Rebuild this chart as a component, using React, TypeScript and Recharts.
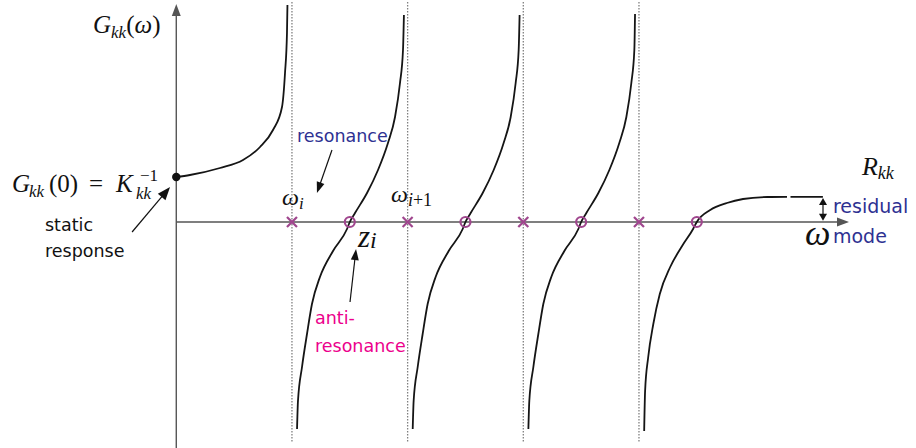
import React from 'react';
import { ComposedChart, Line, Scatter, XAxis, YAxis, ReferenceLine, ReferenceDot } from 'recharts';

// frequency axis: pole spacing = 1, receptance axis in arbitrary units
const poles = [1, 2, 3, 4];
const zeros = [1.5, 2.5, 3.5, 4.5];
const staticValue = 1.125;

const branch0 = [
  { w: 0, g: 1.125 }, { w: 0.118, g: 1.175 }, { w: 0.378, g: 1.35 }, { w: 0.577, g: 1.55 },
  { w: 0.724, g: 1.875 }, { w: 0.836, g: 2.3 }, { w: 0.914, g: 2.875 }, { w: 0.94, g: 3.725 },
  { w: 0.957, g: 4.725 }, { w: 0.961, g: 5.425 },
];
const branch1 = [
  { w: 1.044, g: -5.175 }, { w: 1.052, g: -4.475 }, { w: 1.087, g: -3.625 }, { w: 1.13, g: -2.8 },
  { w: 1.173, g: -2.05 }, { w: 1.242, g: -1.375 }, { w: 1.355, g: -0.725 }, { w: 1.476, g: -0.175 },
  { w: 1.5, g: 0 }, { w: 1.545, g: 0.225 }, { w: 1.649, g: 0.725 }, { w: 1.744, g: 1.3 },
  { w: 1.83, g: 1.975 }, { w: 1.891, g: 2.625 }, { w: 1.934, g: 3.475 }, { w: 1.96, g: 4.3 },
  { w: 1.968, g: 5.175 },
];
const branch2 = [
  { w: 2.044, g: -5.175 }, { w: 2.052, g: -4.475 }, { w: 2.087, g: -3.625 }, { w: 2.13, g: -2.8 },
  { w: 2.173, g: -2.05 }, { w: 2.242, g: -1.375 }, { w: 2.355, g: -0.725 }, { w: 2.476, g: -0.175 },
  { w: 2.5, g: 0 }, { w: 2.545, g: 0.225 }, { w: 2.649, g: 0.725 }, { w: 2.744, g: 1.3 },
  { w: 2.83, g: 1.975 }, { w: 2.891, g: 2.625 }, { w: 2.934, g: 3.475 }, { w: 2.96, g: 4.3 },
  { w: 2.968, g: 5.175 },
];
const branch3 = [
  { w: 3.044, g: -5.175 }, { w: 3.052, g: -4.475 }, { w: 3.087, g: -3.625 }, { w: 3.13, g: -2.8 },
  { w: 3.173, g: -2.05 }, { w: 3.242, g: -1.375 }, { w: 3.355, g: -0.725 }, { w: 3.476, g: -0.175 },
  { w: 3.5, g: 0 }, { w: 3.545, g: 0.225 }, { w: 3.649, g: 0.725 }, { w: 3.744, g: 1.3 },
  { w: 3.83, g: 1.975 }, { w: 3.891, g: 2.625 }, { w: 3.934, g: 3.475 }, { w: 3.96, g: 4.3 },
  { w: 3.966, g: 5.2 },
];
const branch4 = [
  { w: 4.045, g: -5.225 }, { w: 4.053, g: -4.225 }, { w: 4.08, g: -3.375 }, { w: 4.124, g: -2.55 },
  { w: 4.18, g: -1.8 }, { w: 4.27, g: -1.125 }, { w: 4.373, g: -0.6 }, { w: 4.468, g: -0.175 },
  { w: 4.5, g: 0 }, { w: 4.616, g: 0.3 }, { w: 4.76, g: 0.475 }, { w: 4.9, g: 0.575 },
  { w: 5.11, g: 0.625 }, { w: 5.28, g: 0.63 },
];
const asymptote = [{ w: 5.31, g: 0.63 }, { w: 5.59, g: 0.63 }];

const poleData = poles.map((w) => ({ w, g: 0 }));
const zeroData = zeros.map((w) => ({ w, g: 0 }));

const SERIF = '"Liberation Serif", "DejaVu Serif", serif';
const HAND = '"Comic Sans MS", "DejaVu Sans", sans-serif';
const BLUE = '#2e3192';
const PINK = '#ec008c';
const MARK = '#a0468e';

const arrow = (color: string, len: number, wid: number, strokeWidth: number, both = false) => (p: any) => {
  const { x1, y1, x2, y2 } = p;
  const a = Math.atan2(y2 - y1, x2 - x1);
  const c = Math.cos(a), s = Math.sin(a);
  const head = (tx: number, ty: number, dir: number) => {
    const bx = tx - dir * len * c, by = ty - dir * len * s;
    const nx = (-s * wid) / 2, ny = (c * wid) / 2;
    return <polygon points={`${tx},${ty} ${bx + nx},${by + ny} ${bx - nx},${by - ny}`} fill={color} />;
  };
  const sx = both ? x1 + len * c * 0.8 : x1;
  const sy = both ? y1 + len * s * 0.8 : y1;
  return (
    <g>
      <line x1={sx} y1={sy} x2={x2 - len * c * 0.8} y2={y2 - len * s * 0.8} stroke={color} strokeWidth={strokeWidth} />
      {head(x2, y2, 1)}
      {both && head(x1, y1, -1)}
    </g>
  );
};

const at = (content: React.ReactNode) => (p: any) => (
  <g transform={`translate(${p.cx},${p.cy})`}>{content}</g>
);

const crossShape = (p: any) => (
  <g stroke={MARK} strokeWidth={2.2}>
    <line x1={p.cx - 5} y1={p.cy - 5} x2={p.cx + 5} y2={p.cy + 5} />
    <line x1={p.cx - 5} y1={p.cy + 5} x2={p.cx + 5} y2={p.cy - 5} />
  </g>
);
const ringShape = (p: any) => (
  <circle cx={p.cx} cy={p.cy} r={5} fill="none" stroke={MARK} strokeWidth={2.2} />
);

const it = { fontStyle: 'italic' as const };

export default function App() {
  const curve = {
    type: 'monotone' as const,
    dataKey: 'g',
    stroke: '#151515',
    strokeWidth: 1.8,
    dot: false,
    activeDot: false,
    isAnimationActive: false,
  };
  return (
    <div style={{ position: 'absolute', left: 0, top: 0, background: '#fff' }}>
      <ComposedChart width={916} height={448} margin={{ top: 0, right: 0, bottom: 0, left: 0 }}>
        <XAxis type="number" dataKey="w" domain={[-1.524, 6.395]} hide allowDataOverflow />
        <YAxis type="number" dataKey="g" domain={[-5.65, 5.55]} hide allowDataOverflow />

        {/* pole lines */}
        {poles.map((w) => (
          <ReferenceLine key={w} segment={[{ x: w, y: 5.5 }, { x: w, y: -5.5 }]} stroke="#808080" strokeWidth={1.3} strokeDasharray="1.5 1.5" />
        ))}

        {/* axes */}
        <ReferenceLine segment={[{ x: 0, y: 0 }, { x: 5.816, y: 0 }]} shape={arrow('#555', 12, 9, 1.4)} />
        <ReferenceLine segment={[{ x: 0, y: -5.65 }, { x: 0, y: 5.45 }]} shape={arrow('#555', 12, 9, 1.4)} />

        <Line data={branch0} {...curve} />
        <Line data={branch1} {...curve} />
        <Line data={branch2} {...curve} />
        <Line data={branch3} {...curve} />
        <Line data={branch4} {...curve} />
        <Line data={asymptote} {...curve} type="linear" />

        <Scatter data={poleData} shape={crossShape} isAnimationActive={false} />
        <Scatter data={zeroData} shape={ringShape} isAnimationActive={false} />
        <ReferenceDot x={0} y={staticValue} r={4.2} fill="#111" stroke="none" />

        {/* annotation arrows */}
        <ReferenceLine segment={[{ x: -0.382, y: -0.25 }, { x: -0.054, y: 0.875 }]} shape={arrow('#111', 13, 10, 1.2)} />
        <ReferenceLine segment={[{ x: 1.346, y: 1.8 }, { x: 1.216, y: 0.725 }]} shape={arrow('#111', 11, 8, 1.2)} />
        <ReferenceLine segment={[{ x: 1.502, y: -2.0 }, { x: 1.554, y: -0.675 }]} shape={arrow('#111', 11, 8, 1.2)} />
        <ReferenceLine segment={[{ x: 5.591, y: 0.6 }, { x: 5.591, y: 0.03 }]} shape={arrow('#111', 7, 8, 1.2, true)} />

        {/* labels */}
        <ReferenceDot x={-0.72} y={4.725} shape={at(
          <text fontFamily={SERIF} fontSize={25} fill="#111">
            <tspan {...it}>G</tspan>
            <tspan {...it} fontSize={17} dy={5}>kk</tspan>
            <tspan dy={-5}>(</tspan><tspan {...it}>ω</tspan><tspan>)</tspan>
          </text>
        )} />
        <ReferenceDot x={-1.421} y={0.75} shape={at(
          <g fontFamily={SERIF} fill="#111">
            <text x={0} fontSize={25} {...it}>G</text>
            <text x={17} y={5} fontSize={17} {...it}>kk</text>
            <text x={37} fontSize={25}>(0)</text>
            <text x={77} fontSize={25}>=</text>
            <text x={104} fontSize={25} {...it}>K</text>
            <text x={128} y={-11} fontSize={17}>−1</text>
            <text x={124} y={7} fontSize={17} {...it}>kk</text>
          </g>
        )} />
        <ReferenceDot x={-1.135} y={-0.225} shape={at(
          <g fontFamily={HAND} fontSize={17.5} fill="#111">
            <text>static</text>
            <text y={26}>response</text>
          </g>
        )} />
        <ReferenceDot x={1.044} y={2.0} shape={at(
          <text fontFamily={HAND} fontSize={17.5} fill={BLUE}>resonance</text>
        )} />
        <ReferenceDot x={1.199} y={-2.55} shape={at(
          <g fontFamily={HAND} fontSize={17.5} fill={PINK}>
            <text>anti-</text>
            <text y={28}>resonance</text>
          </g>
        )} />
        <ReferenceDot x={0.914} y={0.425} shape={at(
          <text fontFamily={SERIF} fontSize={24} fill="#111">
            <tspan {...it}>ω</tspan><tspan {...it} fontSize={17} dy={4}>i</tspan>
          </text>
        )} />
        <ReferenceDot x={1.856} y={0.5} shape={at(
          <text fontFamily={SERIF} fontSize={24} fill="#111">
            <tspan {...it}>ω</tspan><tspan fontSize={18} dy={4}><tspan {...it}>i</tspan>+1</tspan>
          </text>
        )} />
        <ReferenceDot x={1.571} y={-0.625} shape={at(
          <text fontFamily={SERIF} fontSize={31} fill="#111">
            <tspan {...it}>z</tspan><tspan {...it} fontSize={24} dy={1}>i</tspan>
          </text>
        )} />
        <ReferenceDot x={5.928} y={1.175} shape={at(
          <text fontFamily={SERIF} fontSize={26} fill="#111">
            <tspan {...it}>R</tspan><tspan {...it} fontSize={18} dy={4}>kk</tspan>
          </text>
        )} />
        <ReferenceDot x={5.435} y={-0.575} shape={at(
          <text fontFamily={SERIF} fontSize={36} fill="#111" {...it}>ω</text>
        )} />
        <ReferenceDot x={5.677} y={0.225} shape={at(
          <g fontFamily={HAND} fontSize={19} fill={BLUE}>
            <text>residual</text>
            <text y={30}>mode</text>
          </g>
        )} />
      </ComposedChart>
    </div>
  );
}
